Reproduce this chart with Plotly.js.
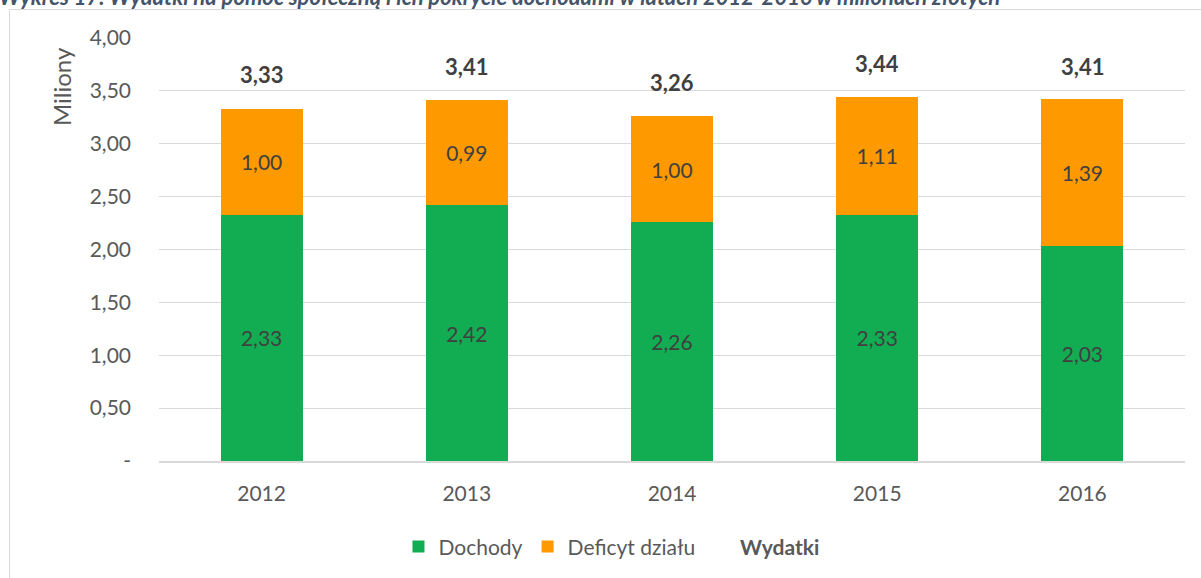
<!DOCTYPE html>
<html>
<head>
<meta charset="utf-8">
<script src="https://cdn.plot.ly/plotly-3.0.1.min.js"></script>
<style>html,body{margin:0;padding:0;background:#fff;}#chart{width:1201px;height:578px;}</style>
</head>
<body>
<div id="chart"></div>
<script>
const years = ["2012", "2013", "2014", "2015", "2016"];
const dochody = [2.33, 2.42, 2.26, 2.33, 2.03];
const deficyt = [1.00, 0.99, 1.00, 1.11, 1.39];
const wydatki = [3.33, 3.41, 3.26, 3.44, 3.41];
const yTickVals = [0, 0.5, 1, 1.5, 2, 2.5, 3, 3.5, 4];
const yTickText = ["-", "0,50", "1,00", "1,50", "2,00", "2,50", "3,00", "3,50", "4,00"];
const titleText = "Wykres 17. Wydatki na pomoc społeczną i ich pokrycie dochodami w latach 2012-2016 w milionach złotych";

const fmt = v => v.toFixed(2).replace('.', ',');
const FONT = "Lato, 'Open Sans', sans-serif";

const traces = [
  {
    type: 'bar', name: 'Dochody', x: years, y: dochody,
    marker: {color: '#12AD52'},
    text: dochody.map(fmt), textposition: 'inside', insidetextanchor: 'middle',
    textfont: {family: FONT, size: 21, color: '#404040'},
    hoverinfo: 'skip'
  },
  {
    type: 'bar', name: 'Deficyt działu', x: years, y: deficyt,
    marker: {color: '#FF9900'},
    text: deficyt.map(fmt), textposition: 'inside', insidetextanchor: 'middle',
    textfont: {family: FONT, size: 21, color: '#404040'},
    hoverinfo: 'skip'
  },
  {
    type: 'scatter', mode: 'lines', name: '<b>Wydatki</b>', x: years, y: wydatki,
    line: {color: 'rgba(0,0,0,0)', width: 0},
    hoverinfo: 'skip'
  }
];

// category axis: annotations use the category index
const annotations = years.map((yr, i) => ({
  x: i, y: wydatki[i], xref: 'x', yref: 'y',
  text: '<b>' + fmt(wydatki[i]) + '</b>',
  showarrow: false, yanchor: 'middle', yshift: 34,
  font: {family: FONT, size: 22, color: '#404040'}
}));

annotations.push({
  xref: 'paper', yref: 'paper', x: -0.0955, y: 0.884,
  text: 'Miliony', textangle: -90, showarrow: false,
  xanchor: 'center', yanchor: 'middle',
  font: {family: FONT, size: 24, color: '#595959'}
});

annotations.push({
  xref: 'paper', yref: 'paper', x: -0.158, y: 1.0625,
  text: '<b><i>' + titleText + '</i></b>', showarrow: false,
  xanchor: 'left', yanchor: 'bottom',
  font: {family: FONT, size: 22, color: '#44546A'}
});

const layout = {
  width: 1201, height: 578,
  margin: {l: 159, r: 16, t: 38, b: 116},
  paper_bgcolor: '#ffffff', plot_bgcolor: '#ffffff',
  barmode: 'stack', bargap: 0.6,
  showlegend: true,
  hovermode: false,
  font: {family: FONT, size: 20, color: '#595959'},
  xaxis: {
    type: 'category', showgrid: false, zeroline: false,
    showline: true, linecolor: '#D9D9D9', linewidth: 1.5,
    ticks: '', ticklabelstandoff: 13,
    tickfont: {family: FONT, size: 21, color: '#595959'},
    fixedrange: true
  },
  yaxis: {
    range: [0, 4], tickvals: yTickVals, ticktext: yTickText,
    showgrid: true, gridcolor: '#D9D9D9', gridwidth: 1,
    zeroline: false, showline: false, ticks: '',
    ticklabelstandoff: 27,
    tickfont: {family: FONT, size: 21, color: '#595959'},
    fixedrange: true
  },
  legend: {
    orientation: 'h', x: 0.441, xanchor: 'center', y: -0.2, yanchor: 'middle',
    font: {family: FONT, size: 21, color: '#595959'},
    traceorder: 'normal'
  },
  annotations: annotations,
  shapes: [
    {type: 'rect', xref: 'paper', yref: 'paper', x0: -0.1457, x1: 1.2, y0: -0.6, y1: 1.0672,
     line: {color: '#D9D9D9', width: 1}, fillcolor: 'rgba(0,0,0,0)', layer: 'below'}
  ]
};

Plotly.newPlot('chart', traces, layout, {displayModeBar: false, staticPlot: true});
</script>
</body>
</html>
